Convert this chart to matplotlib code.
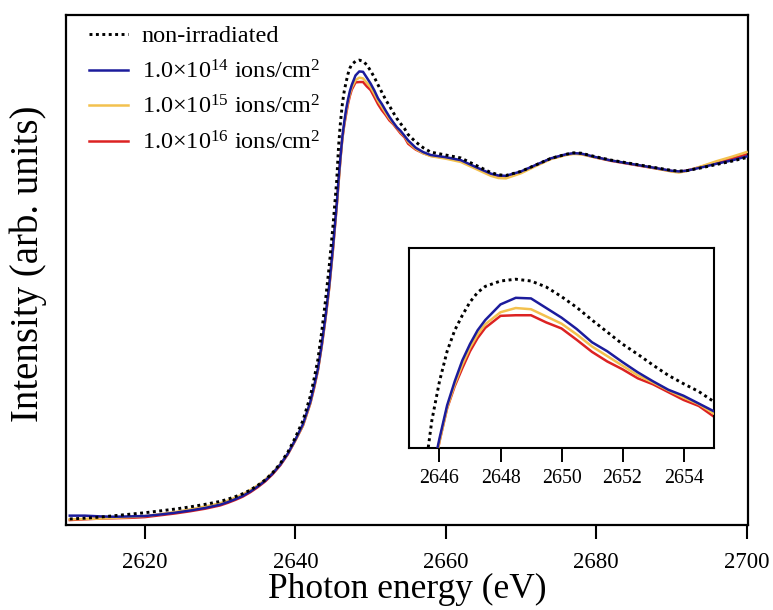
import matplotlib
matplotlib.use("Agg")
import matplotlib.pyplot as plt

plt.rcParams['font.family'] = ['Liberation Serif', 'DejaVu Serif']
plt.rcParams['mathtext.fontset'] = 'custom'
plt.rcParams['mathtext.rm'] = 'Liberation Serif'
plt.rcParams['mathtext.it'] = 'Liberation Serif:italic'

# photon energy (eV)
energy = [2610, 2612, 2614, 2616, 2618, 2620, 2622, 2624, 2626, 2628, 2630,
          2631, 2632, 2633, 2634, 2635, 2636, 2637, 2638, 2639, 2640, 2641,
          2642, 2642.5, 2643, 2643.5, 2644, 2644.5, 2645, 2645.5, 2645.75, 2646,
          2646.25, 2646.5, 2646.75, 2647, 2647.25, 2647.5, 2648, 2648.5, 2649,
          2649.5, 2650, 2650.5, 2651, 2651.5, 2652, 2652.5, 2653, 2653.5, 2654,
          2654.5, 2655,
          2656, 2657, 2658, 2660, 2662, 2664, 2666, 2667, 2668, 2670, 2672,
          2674, 2676, 2677, 2678, 2680, 2682, 2684, 2686, 2688, 2690, 2691,
          2692, 2694, 2696, 2698, 2700]

# normalised intensity
non_irr = [0.003, 0.005, 0.008, 0.012, 0.016, 0.020, 0.025, 0.030, 0.036, 0.043, 0.051,
           0.057, 0.064, 0.072, 0.082, 0.095, 0.110, 0.130, 0.155, 0.186, 0.226, 0.272,
           0.340, 0.388, 0.440, 0.515, 0.600, 0.695, 0.805, 0.930, 1.025, 1.090,
           1.140, 1.175, 1.200, 1.222, 1.238, 1.248, 1.257, 1.260, 1.257,
           1.247, 1.231, 1.213, 1.192, 1.172, 1.152, 1.135, 1.117, 1.100, 1.086,
           1.073, 1.056,
           1.036, 1.020, 1.008, 1.000, 0.992, 0.972, 0.952, 0.946, 0.944, 0.955, 0.973,
           0.991, 1.002, 1.006, 1.005, 0.995, 0.986, 0.979, 0.972, 0.965, 0.958, 0.956,
           0.957, 0.965, 0.974, 0.983, 0.993]

dose_1e14 = [0.012, 0.012, 0.010, 0.009, 0.010, 0.011, 0.015, 0.020, 0.026, 0.033, 0.042,
             0.049, 0.057, 0.066, 0.078, 0.092, 0.108, 0.128, 0.152, 0.182, 0.220, 0.262,
             0.324, 0.368, 0.414, 0.480, 0.556, 0.642, 0.748, 0.865, 0.935, 0.995,
             1.050, 1.090, 1.125, 1.152, 1.175, 1.192, 1.218, 1.229, 1.228,
             1.212, 1.196, 1.177, 1.155, 1.140, 1.122, 1.105, 1.090, 1.076, 1.066,
             1.053, 1.040,
             1.020, 1.008, 1.000, 0.994, 0.986, 0.967, 0.949, 0.944, 0.943, 0.955, 0.973,
             0.991, 1.002, 1.005, 1.004, 0.994, 0.985, 0.978, 0.971, 0.964, 0.957, 0.955,
             0.957, 0.966, 0.976, 0.985, 0.996]

dose_1e15 = [0.002, 0.003, 0.004, 0.006, 0.008, 0.011, 0.016, 0.022, 0.029, 0.037, 0.046,
             0.053, 0.061, 0.070, 0.082, 0.095, 0.111, 0.130, 0.153, 0.182, 0.219, 0.259,
             0.321, 0.366, 0.411, 0.477, 0.552, 0.637, 0.744, 0.860, 0.925, 0.990,
             1.046, 1.085, 1.118, 1.146, 1.168, 1.185, 1.205, 1.212, 1.210,
             1.198, 1.186, 1.168, 1.148, 1.132, 1.116, 1.100, 1.088, 1.075, 1.063,
             1.052, 1.036,
             1.017, 1.005, 0.997, 0.990, 0.981, 0.962, 0.943, 0.937, 0.936, 0.950, 0.970,
             0.989, 1.000, 1.003, 1.002, 0.993, 0.985, 0.978, 0.971, 0.963, 0.955, 0.952,
             0.956, 0.969, 0.983, 0.995, 1.008]

dose_1e16 = [0.000, 0.002, 0.004, 0.005, 0.006, 0.008, 0.013, 0.018, 0.024, 0.031, 0.040,
             0.047, 0.055, 0.064, 0.076, 0.090, 0.106, 0.126, 0.150, 0.180, 0.218, 0.258,
             0.320, 0.362, 0.410, 0.475, 0.550, 0.635, 0.740, 0.860, 0.925, 0.990,
             1.045, 1.082, 1.112, 1.140, 1.162, 1.179, 1.199, 1.200, 1.200,
             1.188, 1.178, 1.159, 1.139, 1.123, 1.110, 1.095, 1.085, 1.072, 1.059,
             1.049, 1.031,
             1.015, 1.005, 0.998, 0.992, 0.984, 0.965, 0.947, 0.942, 0.941, 0.953, 0.972,
             0.990, 1.001, 1.004, 1.003, 0.993, 0.984, 0.977, 0.970, 0.963, 0.956, 0.954,
             0.957, 0.968, 0.980, 0.990, 1.002]

labels = ['non-irradiated',
          '1.0×10$^{14}$ ions/cm$^{2}$',
          '1.0×10$^{15}$ ions/cm$^{2}$',
          '1.0×10$^{16}$ ions/cm$^{2}$']
main_ticks = [2620, 2640, 2660, 2680, 2700]
inset_ticks = [2646, 2648, 2650, 2652, 2654]

c_blue = '#1c1c9c'
c_orange = '#f3c14e'
c_red = '#dc2222'


def draw(ax, lw):
    ax.plot(energy, dose_1e16, color=c_red, lw=lw, label=labels[3], zorder=2)
    ax.plot(energy, dose_1e15, color=c_orange, lw=lw, label=labels[2], zorder=3)
    ax.plot(energy, dose_1e14, color=c_blue, lw=lw, label=labels[1], zorder=4)
    ax.plot(energy, non_irr, color='black', lw=lw + 0.3, ls=(0, (1, 1.2)),
            label=labels[0], zorder=5)


fig = plt.figure(figsize=(7.73, 6.10), dpi=100)
ax = fig.add_axes([0.0854, 0.1393, 0.8823, 0.8361])
draw(ax, 1.8)
ax.set_xlim(2609.5, 2700.2)
ax.set_ylim(-0.0137, 1.3836)
ax.set_xticks(main_ticks)
ax.set_yticks([])
ax.tick_params(axis='x', direction='out', length=10, width=1.5, labelsize=16.5, pad=9.5)
for s in ax.spines.values():
    s.set_linewidth(1.6)
ax.set_xlabel('Photon energy (eV)', fontsize=25.5, labelpad=0)
ax.set_ylabel('Intensity (arb. units)', fontsize=28)
ax.yaxis.set_label_coords(-0.028, 0.512)

h, l = ax.get_legend_handles_labels()
order = [3, 2, 1, 0]
ax.legend([h[i] for i in order], [l[i] for i in order], loc='upper left',
          frameon=False, fontsize=17.5, handlelength=1.6, handletextpad=0.57,
          labelspacing=0.52, borderaxespad=0.0, bbox_to_anchor=(0.0195, 0.999))

ins = fig.add_axes([0.5291, 0.2656, 0.3946, 0.3279])
draw(ins, 1.8)
ins.set_xlim(2645, 2655)
ins.set_ylim(0.979, 1.312)
ins.set_xticks(inset_ticks)
ins.set_yticks([])
ins.tick_params(axis='x', direction='out', length=10, width=1.4, labelsize=14.3, pad=5)
for s in ins.spines.values():
    s.set_linewidth(1.5)

fig.savefig('out.png', dpi=100)
